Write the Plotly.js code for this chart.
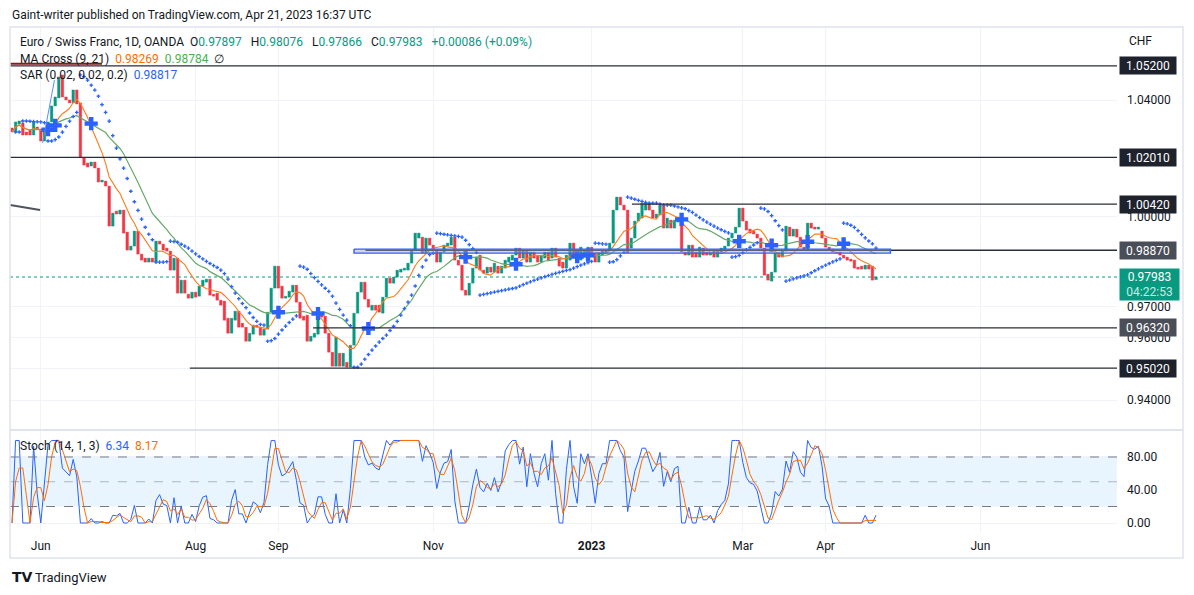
<!DOCTYPE html>
<html><head><meta charset="utf-8">
<script src="https://cdn.plot.ly/plotly-3.0.1.min.js"></script>
<style>html,body{margin:0;padding:0;background:#fff}#chart{width:1194px;height:595px}</style>
</head><body><div id="chart"></div>
<script>
// ---- data (EUR/CHF daily, OANDA), bar index 0 = 2022-05-20 ----
const openPx = [
1.03025,1.02886,1.03164,1.03199,1.02886,1.02956,1.02782,1.03060,1.02990,1.02574,
1.02921,1.03234,1.03792,1.04072,1.04881,1.04107,1.04002,1.03897,1.04353,1.03897,
1.01988,1.01816,1.01713,1.01850,1.01645,1.01166,1.01200,1.01030,0.99677,1.00182,
1.00081,1.00216,0.99476,0.98874,0.99008,0.99509,0.98741,0.98608,0.98475,0.98608,
0.98475,0.99175,0.99074,0.98941,0.98841,0.98210,0.98608,0.97451,0.97879,0.97418,
0.97287,0.97484,0.97352,0.97681,0.97813,0.97912,0.97418,0.97451,0.97221,0.97189,
0.96633,0.96146,0.96568,0.96862,0.96471,0.96341,0.95887,0.96114,0.96406,0.96341,
0.96081,0.96276,0.96829,0.97616,0.98342,0.97681,0.97287,0.97320,0.97484,0.97714,
0.97156,0.96698,0.96731,0.95887,0.96016,0.96114,0.96731,0.96698,0.96146,0.95533,
0.95083,0.95501,0.95083,0.95211,0.95051,0.95758,0.96796,0.97484,0.97813,0.97254,
0.96894,0.97058,0.97058,0.96796,0.97320,0.97945,0.97780,0.97978,0.98143,0.98210,
0.98210,0.98442,0.98874,0.99275,0.99308,0.98774,0.99275,0.99041,0.98874,0.98475,
0.98808,0.99008,0.99041,0.99308,0.98541,0.98375,0.97550,0.97385,0.97780,0.98276,
0.98708,0.98210,0.98110,0.98309,0.98143,0.98342,0.98110,0.98276,0.98475,0.98541,
0.98708,0.98941,0.98608,0.98874,0.98475,0.98808,0.98708,0.98475,0.98608,0.98808,
0.98608,0.98941,0.98608,0.98475,0.98276,0.98541,0.99108,0.98874,0.98541,0.98641,
0.98641,0.98974,0.98741,0.98475,0.98708,0.98774,0.98874,0.99108,1.00216,1.00656,
1.00385,1.00216,0.98941,0.99275,0.99845,0.99946,1.00216,1.00452,1.00216,0.99946,
1.00047,1.00385,0.99610,0.99879,0.99610,0.99811,0.99980,0.98808,0.98708,0.99041,
0.98808,0.98641,0.98941,0.98808,0.98708,0.98874,0.98641,0.98808,0.98908,0.99008,
0.99275,0.99442,0.99644,1.00283,0.99845,0.99576,0.99509,0.99409,0.99275,0.98941,
0.98077,0.97846,0.98143,0.98774,0.98641,0.98841,0.99644,0.99342,0.99576,0.99308,
0.98974,0.98874,0.99778,0.99644,0.99576,0.99509,0.99275,0.98974,0.98908,0.98808,
0.98808,0.98708,0.98641,0.98575,0.98541,0.98309,0.98342,0.98243,0.98375,0.98342,
0.97897];
const closePx = [
1.02886,1.03234,1.03268,1.02782,1.02782,1.02782,1.03234,1.02956,1.02574,1.02886,
1.03234,1.03792,1.04107,1.04811,1.04107,1.04002,1.03897,1.04353,1.03862,1.02022,
1.01747,1.01679,1.01850,1.01645,1.01166,1.01234,1.01030,0.99677,1.00114,1.00081,
1.00216,0.99442,0.98874,0.99008,0.99509,0.98741,0.98541,0.98475,0.98608,0.98475,
0.99175,0.99074,0.98874,0.98841,0.98210,0.98608,0.97451,0.97879,0.97451,0.97287,
0.97484,0.97320,0.97681,0.97879,0.97912,0.97385,0.97352,0.97221,0.97058,0.96568,
0.96146,0.96633,0.96862,0.96341,0.96341,0.95887,0.96146,0.96406,0.96341,0.96081,
0.96276,0.96829,0.97616,0.98342,0.97616,0.97287,0.97352,0.97517,0.97714,0.97156,
0.96633,0.96568,0.95887,0.96049,0.96146,0.96666,0.96666,0.96146,0.95533,0.95083,
0.96016,0.95083,0.95501,0.95051,0.95758,0.96796,0.97484,0.97813,0.97254,0.96992,
0.97058,0.96894,0.96829,0.97320,0.97945,0.97780,0.97978,0.98210,0.98243,0.98276,
0.98442,0.98874,0.99442,0.99442,0.98774,0.99275,0.99041,0.98874,0.98475,0.98808,
0.99041,0.99108,0.99308,0.98541,0.98375,0.97550,0.97385,0.97780,0.98276,0.98641,
0.98210,0.98110,0.98309,0.98143,0.98442,0.98110,0.98342,0.98541,0.98641,0.98708,
0.98941,0.98608,0.98874,0.98475,0.98808,0.98608,0.98475,0.98708,0.98808,0.98541,
0.98941,0.98641,0.98342,0.98276,0.98708,0.99108,0.98641,0.98475,0.98974,0.98874,
0.98974,0.98741,0.98475,0.98774,0.98874,0.98874,0.99108,1.00216,1.00656,1.00385,
1.00216,0.98774,0.99275,0.99845,1.00114,1.00452,1.00452,1.00216,0.99946,1.00081,
1.00385,0.99610,0.99946,0.99610,0.99879,0.99980,0.98808,0.98708,0.99041,0.98641,
0.98641,0.98974,0.98708,0.98708,0.98808,0.98641,0.98841,0.98941,0.99008,0.99275,
0.99442,0.99644,1.00283,0.99845,0.99543,0.99442,0.99409,0.99275,0.98941,0.98044,
0.97879,0.98143,0.98774,0.98641,0.98841,0.99677,0.99342,0.99576,0.99308,0.98974,
0.98874,0.99778,0.99610,0.99576,0.99644,0.99275,0.98974,0.98874,0.98808,0.98774,
0.98708,0.98608,0.98541,0.98508,0.98276,0.98243,0.98243,0.98375,0.98243,0.97879,
0.97983];
const tickIdx  = [8, 51, 74, 117, 161, 203, 226, 269];
const tickText = ['Jun','Aug','Sep','Nov','<b>2023</b>','Mar','Apr','Jun'];
const priceTicks = [0.94, 0.95, 0.96, 0.97, 1.00, 1.04];
const levelPrices = [1.052, 1.0201, 1.0042, 0.9887, 0.9632, 0.9502];
const zoneTop = 0.98908, zoneBottom = 0.98774;
const lastPrice = 0.97983;
const stochTicks = [0, 40, 80];

// ---- derived indicators ----
const n = closePx.length;
const idx = Array.from({length:n}, (_, i) => i);
const hi = idx.map(i => Math.max(openPx[i], closePx[i]));
const lo = idx.map(i => Math.min(openPx[i], closePx[i]));
function sma(a, p){ return a.map((v,i)=>{const s=Math.max(0,i-p+1);let t=0;for(let j=s;j<=i;j++)t+=a[j];return t/(i-s+1);}); }
const ma9 = sma(closePx, 9), ma21 = sma(closePx, 21);
const K = idx.map(i=>{const s=Math.max(0,i-13);let h=-1e9,l=1e9;for(let j=s;j<=i;j++){h=Math.max(h,hi[j]);l=Math.min(l,lo[j]);}return h>l?100*(closePx[i]-l)/(h-l):50;});
const D = sma(K, 3);
function psar(h,l,st,inc,mx){
  const out=new Array(h.length).fill(null);
  let up=false, af=st, ep=l[0], s=h[0];
  for(let i=1;i<h.length;i++){
    s = s + af*(ep - s);
    if(up){
      s = Math.min(s, l[i-1], l[Math.max(0,i-2)]);
      if(l[i] < s){ up=false; s=ep; ep=l[i]; af=st; }
      else if(h[i] > ep){ ep=h[i]; af=Math.min(af+inc,mx); }
    } else {
      s = Math.max(s, h[i-1], h[Math.max(0,i-2)]);
      if(h[i] > s){ up=true; s=ep; ep=h[i]; af=st; }
      else if(l[i] < ep){ ep=l[i]; af=Math.min(af+inc,mx); }
    }
    out[i]=s;
  }
  return out;
}
const sar = psar(hi, lo, 0.02, 0.02, 0.2);
const crossX=[], crossY=[];
for(let i=2;i<n;i++){ const a=ma9[i]-ma21[i], b=ma9[i-1]-ma21[i-1]; if(a*b<0){crossX.push(i);crossY.push(ma21[i]);} }

const UP='#089981', DN='#F23645', BLUE='#2962FF', ORANGE='#FF6D00', GREEN='#4CAF50';
const X0=-0.556, X1=306.94;
const PX = X => (X-10)/1107, PY = Y => (532-Y)/505;

const traces = [];
traces.push({type:'scatter', mode:'lines', x:[X0,X1], y:[lastPrice,lastPrice], line:{color:UP,width:1,dash:'dot'}, hoverinfo:'skip'});
traces.push({type:'bar', x:idx, base:lo, y:idx.map(i=>Math.max(hi[i]-lo[i],0.00012)), width:0.72,
  marker:{color:idx.map(i=>closePx[i]>=openPx[i]?UP:DN), line:{width:0.4,color:idx.map(i=>closePx[i]>=openPx[i]?UP:DN)}}, hoverinfo:'skip'});
traces.push({type:'scatter', mode:'lines', x:idx, y:ma21, line:{color:'#66a969',width:1.2}, hoverinfo:'skip'});
traces.push({type:'scatter', mode:'lines', x:idx, y:ma9, line:{color:'#ff7a1a',width:1.1}, hoverinfo:'skip'});
traces.push({type:'scatter', mode:'markers', x:idx, y:sar, marker:{symbol:'cross-thin',size:2.6,line:{width:1.3,color:BLUE}}, hoverinfo:'skip'});
traces.push({type:'scatter', mode:'markers', x:crossX, y:crossY, marker:{symbol:'cross',size:11,color:BLUE}, hoverinfo:'skip'});
// user drawings
const levelStart = [X0, X0, 172.2, 98.2, 83.6, 49.4];
levelPrices.forEach((p,k)=>traces.push({type:'scatter',mode:'lines',x:[levelStart[k],X1],y:[p,p],line:{color:'#2a2e39',width:1.3},hoverinfo:'skip'}));
traces.push({type:'scatter',mode:'lines',x:[95,244,244,95,95],y:[zoneTop,zoneTop,zoneBottom,zoneBottom,zoneTop],fill:'toself',fillcolor:'rgba(160,164,174,0.45)',line:{color:BLUE,width:1.4},hoverinfo:'skip'});
traces.push({type:'scatter',mode:'lines',x:[X0,7.8],y:[1.00385,1.00216],line:{color:'#50535e',width:2},hoverinfo:'skip'});
traces.push({type:'scatter',mode:'lines',x:[8.5,11.8],y:[1.0251,1.0470],line:{color:'#5b8cf6',width:1},hoverinfo:'skip'});
traces.push({type:'scatter',mode:'lines',x:[X0,25],y:[1.0528,1.0528],line:{color:'#7f1d1d',width:2},hoverinfo:'skip'});
// stochastic
traces.push({type:'scatter',mode:'lines',x:idx,y:K,xaxis:'x2',yaxis:'y2',line:{color:BLUE,width:1},hoverinfo:'skip'});
traces.push({type:'scatter',mode:'lines',x:idx,y:D,xaxis:'x2',yaxis:'y2',line:{color:ORANGE,width:1},hoverinfo:'skip'});

const shapes = [
  {type:'rect',xref:'paper',yref:'y2',x0:0,x1:1,y0:20,y1:80,fillcolor:'rgba(33,150,243,0.1)',line:{width:0},layer:'below'},
  {type:'line',xref:'paper',yref:'y2',x0:0,x1:1,y0:80,y1:80,line:{color:'#787b86',width:1,dash:'dash'}},
  {type:'line',xref:'paper',yref:'y2',x0:0,x1:1,y0:50,y1:50,line:{color:'rgba(120,123,134,0.5)',width:1,dash:'dash'}},
  {type:'line',xref:'paper',yref:'y2',x0:0,x1:1,y0:20,y1:20,line:{color:'#787b86',width:1,dash:'dash'}},
  {type:'line',xref:'paper',yref:'paper',x0:0,x1:PX(1183),y0:PY(430),y1:PY(430),line:{color:'#e0e3eb',width:2}},
  {type:'rect',xref:'paper',yref:'paper',x0:0,x1:PX(1183),y0:PY(558),y1:PY(27),line:{color:'#e0e3eb',width:1.5}}
];

const ann = [];
const T = (text,X,Y,opt={}) => ann.push(Object.assign({xref:'paper',yref:'paper',x:PX(X),y:PY(Y),text,showarrow:false,xanchor:'left',yanchor:'middle',font:{size:12,color:'#131722'}},opt));
const nb = '\u00a0';
const span = (c,t) => `<span style="color:${c}">${t}</span>`;
T('Gaint-writer published on TradingView.com, Apr 21, 2023 16:37 UTC', 10, 15, {font:{size:12,color:'#131722'}});
T('Euro / Swiss Franc, 1D, OANDA'+nb+nb+'O'+span(UP,'0.97897')+nb+nb+nb+'H'+span(UP,'0.98076')+nb+nb+nb+'L'+span(UP,'0.97866')+nb+nb+nb+'C'+span(UP,'0.97983')+nb+nb+nb+span(UP,'+0.00086 (+0.09%)'), 18, 42);
T('MA Cross (9, 21)'+nb+nb+span(ORANGE,'0.98269')+nb+nb+span(GREEN,'0.98784')+nb+nb+'∅', 18, 59);
T('SAR (0.02, 0.02, 0.2)'+nb+nb+span(BLUE,'0.98817'), 18, 75);
T('Stoch (14, 1, 3)'+nb+nb+span(BLUE,'6.34')+nb+nb+span(ORANGE,'8.17'), 18, 446);
T('CHF', 1140, 41, {xanchor:'center'});
T('<b>TV</b>', 10, 577, {font:{size:14,color:'#131722',family:'DejaVu Sans'}});
T('TradingView', 33, 577, {font:{size:13,color:'#131722'}});
const boxCol = ['#1e222d','#1e222d','#1e222d','#4a4e59','#4a4e59','#1e222d'];
levelPrices.forEach((p,k)=>ann.push({xref:'paper',yref:'y',x:PX(1119),y:Math.log10(p),text:p.toFixed(5),showarrow:false,xanchor:'left',yanchor:'middle',
  bgcolor:boxCol[k],font:{size:12,color:'#ffffff'},width:54,height:15,borderpad:1,align:'center'}));
ann.push({xref:'paper',yref:'y',x:PX(1119),y:Math.log10(lastPrice),yshift:9,text:lastPrice.toFixed(5)+'<br>'+span('rgba(255,255,255,0.8)','04:22:53'),showarrow:false,xanchor:'left',yanchor:'top',
  bgcolor:UP,font:{size:12,color:'#ffffff'},width:57,height:29,borderpad:1,align:'center'});

const layout = {
  width:1194, height:595, margin:{l:10,r:77,t:27,b:63}, paper_bgcolor:'#ffffff', plot_bgcolor:'#ffffff', showlegend:false,
  font:{family:'Roboto, sans-serif', size:12, color:'#131722'}, bargap:0,
  xaxis:{range:[X0,X1], tickvals:tickIdx, showticklabels:false, showgrid:true, gridcolor:'#f0f3fa', zeroline:false, ticks:'', anchor:'y'},
  yaxis:{type:'log', domain:[PY(430),1], range:[Math.log10(0.93063), Math.log10(1.06588)], side:'right', tickvals:priceTicks, ticktext:priceTicks.map(v=>v.toFixed(5)),
    showgrid:true, gridcolor:'#f0f3fa', zeroline:false, ticks:'', ticklabelstandoff:9, tickfont:{size:12,color:'#131722'}},
  xaxis2:{matches:'x', anchor:'y2', tickvals:tickIdx, ticktext:tickText, showgrid:true, gridcolor:'#f0f3fa', zeroline:false, ticks:'', ticklabelstandoff:5, tickfont:{size:12,color:'#131722'}},
  yaxis2:{domain:[0,PY(430)], range:[-10.9,112.7], side:'right', tickvals:stochTicks, ticktext:stochTicks.map(v=>v.toFixed(2)), showgrid:true, gridcolor:'#f0f3fa', zeroline:false, ticks:'', ticklabelstandoff:9, tickfont:{size:12,color:'#131722'}},
  shapes, annotations:ann
};
Plotly.newPlot('chart', traces, layout, {staticPlot:true, displayModeBar:false});
</script></body></html>
